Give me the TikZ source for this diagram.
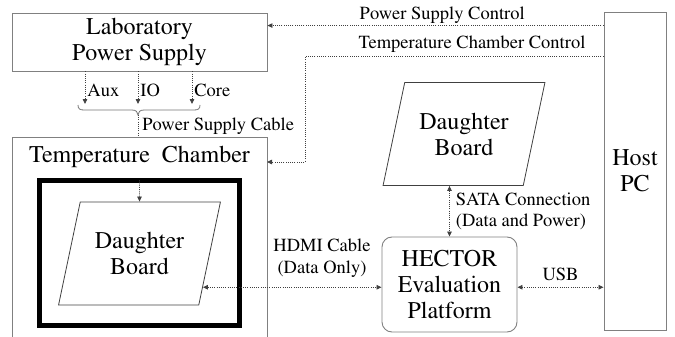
\documentclass[tikz,border=0pt]{standalone}
\usepackage[T1]{fontenc}
\usepackage{mathptmx}
\usetikzlibrary{shapes.geometric, calc, arrows.meta, positioning}

\newcommand{\bigtxt}{\fontsize{24}{26}\selectfont}
\newcommand{\lbltxt}{\fontsize{18.5}{21.5}\selectfont}

\begin{document}
\begin{tikzpicture}[x=1pt, y=-1pt,
    box/.style={draw=black!50, line width=0.9pt, align=center, font=\bigtxt},
    board/.style={trapezium, trapezium left angle=69, trapezium right angle=111,
        trapezium stretches=true, draw=black!75, line width=0.8pt, inner sep=0pt,
        minimum width=162pt, minimum height=103pt, align=center, font=\bigtxt},
    link/.style={black!75, line width=0.8pt, dash pattern=on 1pt off 1.2pt,
        arrows={-}, >={Triangle[length=5pt, width=4.5pt]}},
    lbl/.style={font=\lbltxt, text=black, inner sep=2pt}]
            \useasboundingbox (0,0) rectangle (675,337);
            % Blocks
            \node[box, minimum width=255pt, minimum height=58pt] (lps) at (139.5,42) {Laboratory\\Power Supply};
            \node[box, minimum width=62pt, minimum height=318pt] (host) at (635,171) {Host\\PC};
            \node[box, rounded corners=10pt, minimum width=135pt, minimum height=95pt] (hector) at (449.5,284.5) {HECTOR\\Evaluation\\Platform};
            \node[board] (dbtop) at (464,134) {Daughter\\Board};
            % Temperature chamber, open at the bottom
            \draw[black!50, line width=0.9pt] (12,337) |- (267,137) -- (267,337);
            \coordinate (chamberTop) at (138,137);
            \coordinate (chamberRight) at (267,162);
            \node[font=\bigtxt] (chamberTitle) at (139.5,157) {Temperature~~Chamber};
            \node[draw, line width=4.5pt, minimum width=200pt, minimum height=145pt] (cage) at (139.5,253) {};
            \node[board] (dbin) at (139.5,253.5) {Daughter\\Board};
            % Supply rails
            \foreach \x/\rail [count=\i] in {85/Aux,138/IO,192/Core} {
                \coordinate (rail\i) at (\x,104);
                \draw[link,->] (rail\i |- lps.south) -- (rail\i) node[lbl, anchor=west, pos=0.58] {\rail};
            }
            % Brace gathering the rails
            \coordinate (cable) at (138,115);
            \draw[black!55, line width=0.8pt] (78,105) .. controls (78,109) and (80,110) .. (84,110) -- (132,110)
                .. controls (136,110) and (138,112) .. (cable)
                .. controls (138,112) and (140,110) .. (144,110) -- (194,110)
                .. controls (198,110) and (200,109) .. (200,105);
            \draw[link] (cable) -- (chamberTop) node[lbl, anchor=base west, pos=0.7, inner sep=4pt] {Power Supply Cable};
            % Control lines from the host
            \coordinate (pscEnd) at ([yshift=-14pt]host.north west);
            \draw[link,->] (pscEnd) -- (pscEnd -| lps.east) node[lbl, above, pos=0.48] {Power Supply Control};
            \coordinate (tccEnd) at ([yshift=-45pt]host.north west);
            \coordinate (tccBend) at (305,162);
            \draw[link,->] (tccEnd) -| (tccBend) -- (chamberRight);
            \node[lbl, anchor=south] (tccLabel) at (472,55) {Temperature Chamber Control};
            % Data connections
            \draw[link,->] ([yshift=-2pt]cage.north) -- (dbin.north);
            \coordinate (hdmi) at ($(dbin.bottom right corner)!0.175!(dbin.top right corner)$);
            \draw[link,<->] (hdmi) -- (hdmi -| hector.west);
            \node[lbl, align=center] (hdmiLabel) at (322,258) {HDMI Cable\\(Data Only)};
            \draw[link,<->] (dbtop.south -| hector.north) -- (hector.north)
                node[lbl, anchor=west, align=left, midway, xshift=4pt] {SATA Connection\\(Data and Power)};
            \draw[link,<->] (hdmi -| hector.east) -- (hdmi -| host.west) node[lbl, above, midway, yshift=4pt] {USB};
        \end{tikzpicture}
\end{document}
